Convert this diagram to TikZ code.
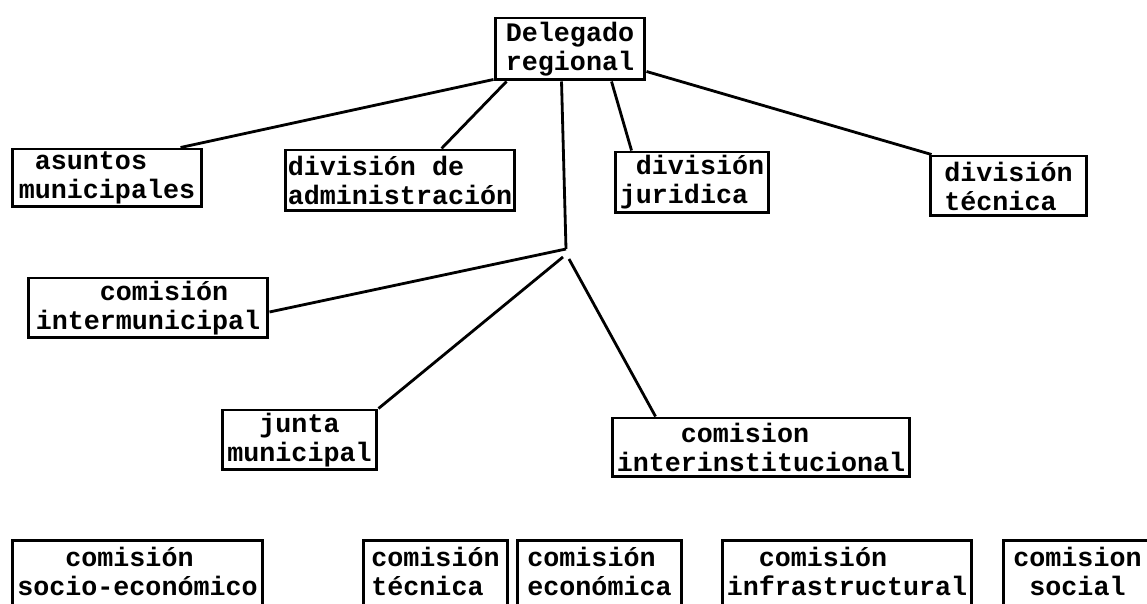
\documentclass[tikz,border=0pt]{standalone}
\usepackage{fontspec}
\setmainfont{Liberation Mono}
\usetikzlibrary{calc}

\tikzset{
  box/.style={draw, line width=1.7pt, inner sep=0pt, align=left,
    font=\bfseries\fontsize{15.2}{16.5}\selectfont},
  cutbox/.style={box, anchor=north, inner ysep=4pt, text depth=1.4cm},
  link/.style={line width=1.6pt},
}

\begin{document}
\begin{tikzpicture}[x=0.02cm,y=-0.02cm]
  \clip (0,0) rectangle (1147,604);
  % head
  \node[box, minimum width=3cm, minimum height=1.24cm] (deleg) at (570,49) {Delegado\\regional};
  % first level
  \node[box, minimum width=3.8cm, minimum height=1.16cm] (asuntos) at (107,178) {~asuntos\\municipales};
  \node[box, minimum width=4.6cm, minimum height=1.22cm] (adm) at (400,180.5) {división de\\administración};
  \node[box, minimum width=3.08cm, minimum height=1.22cm] (jur) at (692,182.5) {~división\\juridica};
  \node[box, minimum width=3.14cm, minimum height=1.2cm] (tec) at (1008.5,186) {división\\técnica};
  % second level
  \coordinate (fork) at (566,249);
  \node[box, minimum width=4.8cm, minimum height=1.2cm] (inter) at (148,308) {~~~~comisión\\intermunicipal};
  \node[box, minimum width=3.1cm, minimum height=1.2cm] (junta) at (299.5,440) {~~junta\\municipal};
  \node[box, minimum width=5.96cm, minimum height=1.18cm] (interinst) at (761,447.5) {~~~~comision\\interinstitucional};
  % bottom row, cut off by the page
  \node[cutbox, minimum width=5.02cm] (socio) at (137.5,539) {~~~comisión\\socio-económico};
  \node[cutbox, minimum width=2.9cm] (ctec) at (435.5,539) {comisión\\técnica};
  \node[cutbox, minimum width=3.3cm] (ceco) at (599.5,539) {comisión\\económica};
  \node[cutbox, minimum width=5cm] (cinfra) at (847,539) {~~comisión\\infrastructural};
  \node[cutbox, minimum width=2.98cm] (csoc) at (1077.5,539) {comision\\~social};

  \draw[link] ($(deleg.south west)+(0,-2)$) -- ($(asuntos.north west)+(170,0)$);
  \draw[link] ($(deleg.south west)+(13,0)$) -- ($(adm.north west)+(158,0)$);
  \draw[link] ($(deleg.south west)+(118,0)$) -- ($(jur.north west)+(18,0)$);
  \draw[link] ($(deleg.south east)+(0,-10)$) -- ($(tec.north west)+(3,0)$);
  \draw[link] ($(deleg.south west)+(68,0)$) -- (fork);
  \draw[link] (fork) -- ($(inter.east)+(0,4)$);
  \draw[link] ($(fork)+(-3,8)$) -- (junta.north east);
  \draw[link] ($(fork)+(3,10)$) -- ($(interinst.north west)+(45,0)$);
\end{tikzpicture}
\end{document}
